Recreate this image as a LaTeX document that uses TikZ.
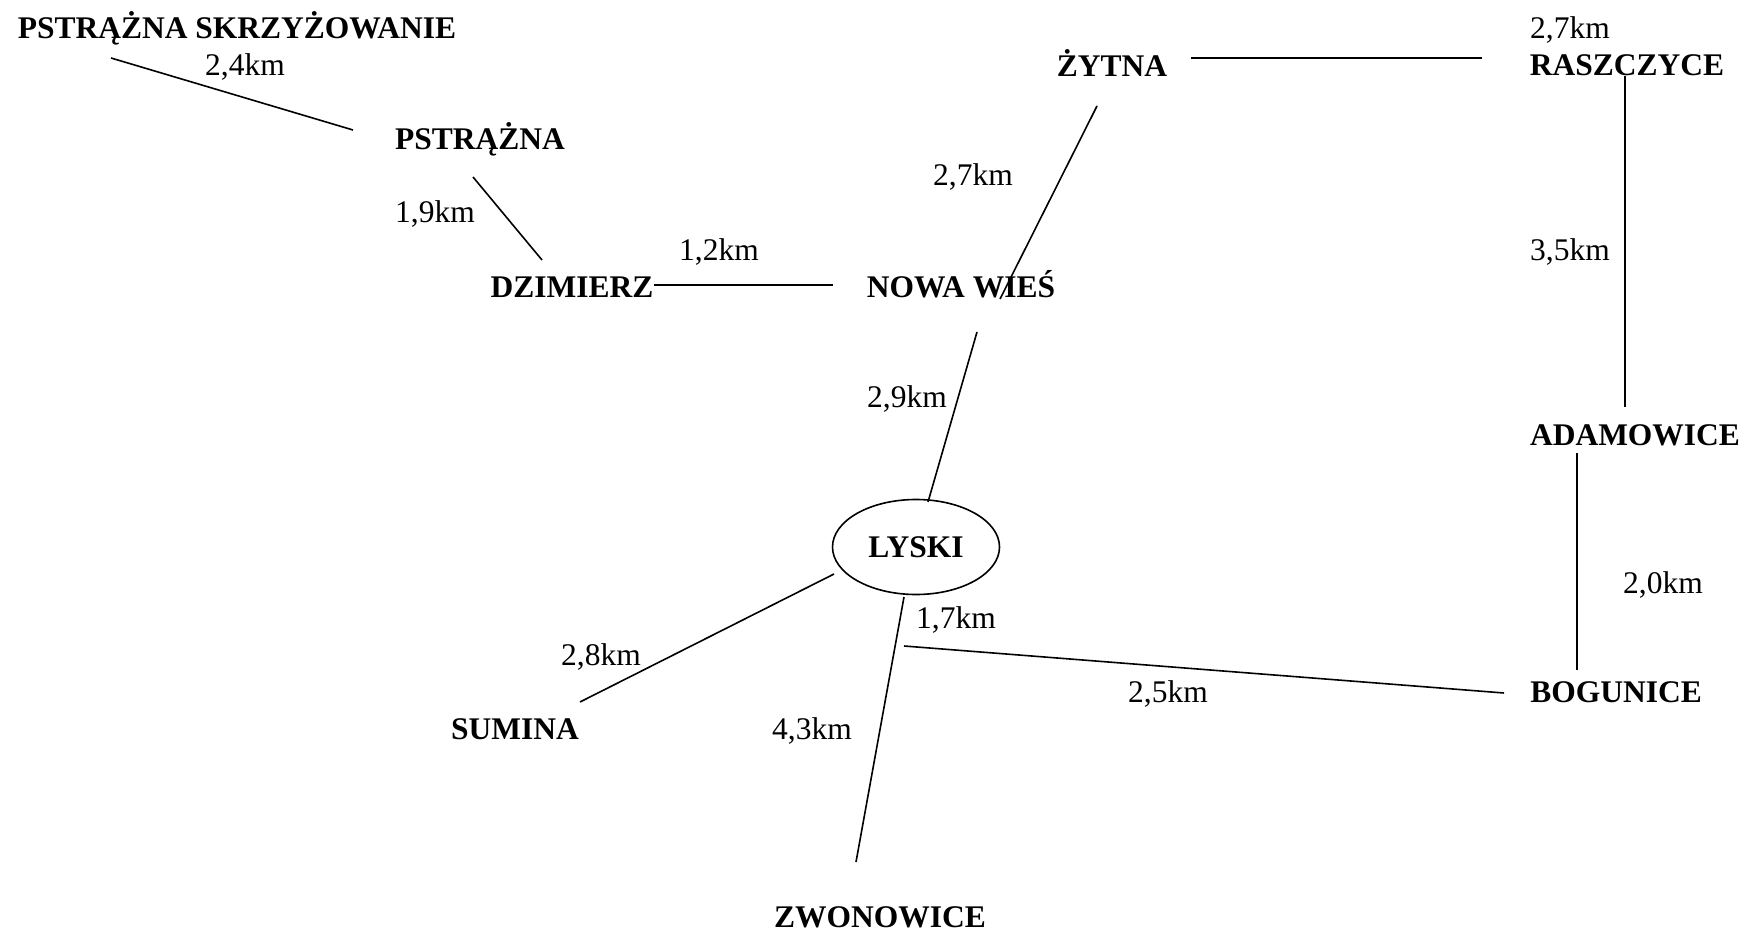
\documentclass[tikz,border=0pt]{standalone}
\usepackage{fontspec}
\setmainfont{Liberation Serif}
\usetikzlibrary{shapes.geometric}
\begin{document}
\begin{tikzpicture}[x=1pt,y=-1pt,
  place/.style={font=\bfseries\fontsize{31.5}{38}\selectfont, inner sep=0pt, anchor=base},
  dist/.style={font=\fontsize{31.5}{38}\selectfont, inner sep=0pt, anchor=base},
  road/.style={line width=1.6pt}]
\useasboundingbox (0,0) rectangle (1745,933);
% places
\node[place] (ps) at (237,39) {PSTRĄŻNA SKRZYŻOWANIE};
\node[place] (p) at (480,150) {PSTRĄŻNA};
\node[place] (d) at (572,298) {DZIMIERZ};
\node[place] (n) at (961,298) {NOWA WIEŚ};
\node[place] (zy) at (1112,77) {ŻYTNA};
\node[place] (r) at (1627,76) {RASZCZYCE};
\node[place] (a) at (1635,445) {ADAMOWICE};
\node[place] (b) at (1616,702) {BOGUNICE};
\node[place] (s) at (515,739) {SUMINA};
\node[place] (zw) at (880,927) {ZWONOWICE};
\node[ellipse, draw, road, minimum width=167pt, minimum height=95pt, inner sep=0pt,
      font=\bfseries\fontsize{31.5}{38}\selectfont] (l) at (916,547) {LYSKI};
% distances
\node[dist] (d1) at (245,76) {2,4km};
\node[dist] (d2) at (435,223) {1,9km};
\node[dist] (d3) at (719,261) {1,2km};
\node[dist] (d4) at (973,186) {2,7km};
\node[dist] (d5) at (1570,39) {2,7km};
\node[dist] (d6) at (1570,261) {3,5km};
\node[dist] (d7) at (1663,593) {2,0km};
\node[dist] (d8) at (1168,702) {2,5km};
\node[dist] (d9) at (956,628) {1,7km};
\node[dist] (d10) at (907,407) {2,9km};
\node[dist] (d11) at (601,665) {2,8km};
\node[dist] (d12) at (812,739) {4,3km};
% road end points
\coordinate (e1a) at (111,58);   \coordinate (e1b) at (353,130);
\coordinate (e2a) at (473,177);  \coordinate (e2b) at (542,260);
\coordinate (e3a) at (654,285);  \coordinate (e3b) at (833,285);
\coordinate (e4a) at (1000,299); \coordinate (e4b) at (1097,106);
\coordinate (e5a) at (1191,58);  \coordinate (e5b) at (1482,58);
\coordinate (e6a) at (1625,76);  \coordinate (e6b) at (1625,407);
\coordinate (e7a) at (1577,453); \coordinate (e7b) at (1577,670);
\coordinate (e8a) at (904,646);  \coordinate (e8b) at (1504,693);
\coordinate (e9a) at (977,332);  \coordinate (e9b) at (928,502);
\coordinate (e10a) at (834,574); \coordinate (e10b) at (580,702);
\coordinate (e11a) at (904,597); \coordinate (e11b) at (856,862);
% roads
\draw[road] (e1a) -- (e1b);
\draw[road] (e2a) -- (e2b);
\draw[road] (e3a) -- (e3b);
\draw[road] (e4a) -- (e4b);
\draw[road] (e5a) -- (e5b);
\draw[road] (e6a) -- (e6b);
\draw[road] (e7a) -- (e7b);
\draw[road] (e8a) -- (e8b);
\draw[road] (e9a) -- (e9b);
\draw[road] (e10a) -- (e10b);
\draw[road] (e11a) -- (e11b);
\end{tikzpicture}
\end{document}
